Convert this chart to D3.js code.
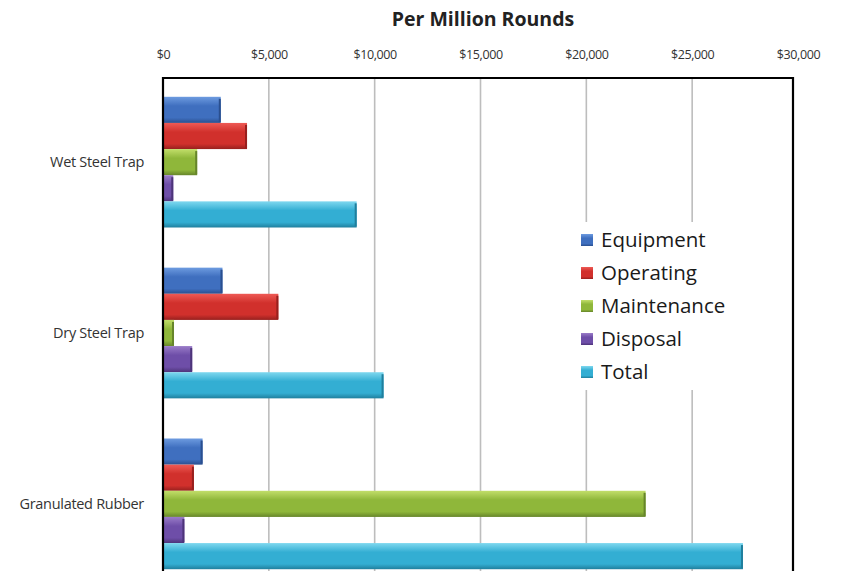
<!DOCTYPE html>
<head>
  <meta charset="utf-8">
  <title>per million rounds</title>
  <style>
    body { margin: 0; background: #fff; }
  </style>
</head>

<script src="https://cdnjs.cloudflare.com/ajax/libs/d3/7.8.5/d3.min.js"></script>

<div id="my_dataviz"></div>

<script>

  // categories (top to bottom) and the cost series
  const traps = ["Wet Steel Trap", "Dry Steel Trap", "Granulated Rubber"]
  const seriesNames = ["Equipment", "Operating", "Maintenance", "Disposal", "Total"]
  const equipment   = [2730, 2810, 1870]
  const operating   = [3970, 5450, 1460]
  const maintenance = [1615, 520, 22800]
  const disposal    = [485, 1380, 1010]
  const total       = [9150, 10420, 27400]
  const tickValues  = [0, 5000, 10000, 15000, 20000, 25000, 30000]

  const seriesValues = [equipment, operating, maintenance, disposal, total]

  // colours: [light top, mid, dark bottom]
  const palette = [
    ["#6d9be0", "#3f6fbf", "#2a4f8f"],
    ["#ee5a55", "#d1302c", "#97201e"],
    ["#c2de6a", "#8fb73a", "#66852a"],
    ["#9a7cc8", "#6e4ea8", "#4d3479"],
    ["#7fd8ef", "#33aed3", "#207f9d"]
  ]

  const W = 841, H = 571
  const margin = {top: 78, left: 163}

  const svg = d3.select("#my_dataviz")
    .append("svg")
      .attr("width", W)
      .attr("height", H)

  const defs = svg.append("defs")
  palette.forEach((c, i) => {
    const g = defs.append("linearGradient")
      .attr("id", "grad" + i)
      .attr("x1", 0).attr("y1", 0).attr("x2", 0).attr("y2", 1)
    g.append("stop").attr("offset", "0%").attr("stop-color", c[0])
    g.append("stop").attr("offset", "35%").attr("stop-color", c[1])
    g.append("stop").attr("offset", "80%").attr("stop-color", c[1])
    g.append("stop").attr("offset", "100%").attr("stop-color", c[2])
  })

  // scales
  const x = d3.scaleLinear()
    .domain([0, 30000])
    .range([margin.left, 798])

  const y = d3.scaleBand()
    .domain(traps)
    .range([margin.top, 588])
    .paddingInner(0.235)
    .paddingOuter(0.11)

  const ySub = d3.scaleBand()
    .domain(seriesNames)
    .range([0, y.bandwidth()])

  const plotRight = x(30000) - 5
  const plotBottom = H + 20

  // title
  svg.append("text")
    .attr("x", 483)
    .attr("y", 26)
    .attr("text-anchor", "middle")
    .style("font-family", "Open Sans, Lato, sans-serif")
    .style("font-weight", "bold")
    .style("font-size", "19.5px")
    .style("fill", "#222")
    .text("Per Million Rounds")

  // gridlines
  svg.append("g")
    .selectAll("line")
    .data(tickValues.slice(1, -1))
    .join("line")
      .attr("x1", d => x(d)).attr("x2", d => x(d))
      .attr("y1", margin.top).attr("y2", plotBottom)
      .attr("stroke", "#bdbdbd")
      .attr("stroke-width", 1.6)

  // top axis labels
  const axis = svg.append("g")
    .attr("transform", `translate(0, 62)`)
    .call(d3.axisTop(x)
      .tickValues(tickValues)
      .tickSize(0)
      .tickFormat(d => "$" + d3.format(",")(d)))
  axis.select(".domain").remove()
  axis.selectAll("text")
    .style("font-family", "Open Sans, Roboto, sans-serif")
    .style("font-size", "12.5px")
    .style("letter-spacing", "-0.4px")
    .style("fill", "#333")
    .attr("dy", 0)

  // bars
  const groups = svg.append("g")
    .selectAll("g")
    .data(traps)
    .join("g")
      .attr("transform", d => `translate(0, ${y(d)})`)

  groups.selectAll("rect")
    .data((d, i) => seriesNames.map((s, j) => ({s: s, j: j, v: seriesValues[j][i]})))
    .join("rect")
      .attr("x", x(0))
      .attr("y", d => ySub(d.s))
      .attr("width", d => x(d.v) - x(0))
      .attr("height", ySub.bandwidth())
      .attr("fill", d => "url(#grad" + d.j + ")")

  // darker end caps
  groups.selectAll("line.cap")
    .data((d, i) => seriesNames.map((s, j) => ({s: s, j: j, v: seriesValues[j][i]})))
    .join("line")
      .attr("class", "cap")
      .attr("x1", d => x(d.v) - 1).attr("x2", d => x(d.v) - 1)
      .attr("y1", d => ySub(d.s) + 2)
      .attr("y2", d => ySub(d.s) + ySub.bandwidth() - 1)
      .attr("stroke", d => palette[d.j][2])
      .attr("stroke-width", 2)

  // category labels
  svg.append("g")
    .selectAll("text")
    .data(traps)
    .join("text")
      .attr("x", 144)
      .attr("y", d => y(d) + y.bandwidth() / 2 + 5)
      .attr("text-anchor", "end")
      .style("font-family", "Open Sans, Roboto, sans-serif")
      .style("font-size", "14.5px")
      .style("letter-spacing", "-0.3px")
      .style("fill", "#333")
      .text(d => d)

  // frame
  svg.append("path")
    .attr("d", `M${x(0)},${plotBottom} V${margin.top} H${plotRight} V${plotBottom}`)
    .attr("fill", "none")
    .attr("stroke", "#000")
    .attr("stroke-width", 2.2)

  // legend
  const legend = svg.append("g")
    .attr("transform", "translate(572, 222)")
  legend.append("rect")
    .attr("width", 170)
    .attr("height", 168)
    .attr("fill", "#fff")

  const item = legend.selectAll("g")
    .data(seriesNames)
    .join("g")
      .attr("transform", (d, i) => `translate(9, ${18 + i * 33})`)
  item.append("rect")
    .attr("x", 0).attr("y", -6)
    .attr("width", 12).attr("height", 12)
    .attr("fill", (d, i) => "url(#grad" + i + ")")
  item.append("text")
    .attr("x", 20)
    .attr("y", 7)
    .style("font-family", "Open Sans, Lato, sans-serif")
    .style("font-size", "20.5px")
    .style("fill", "#1a1a1a")
    .text(d => d)

</script>
